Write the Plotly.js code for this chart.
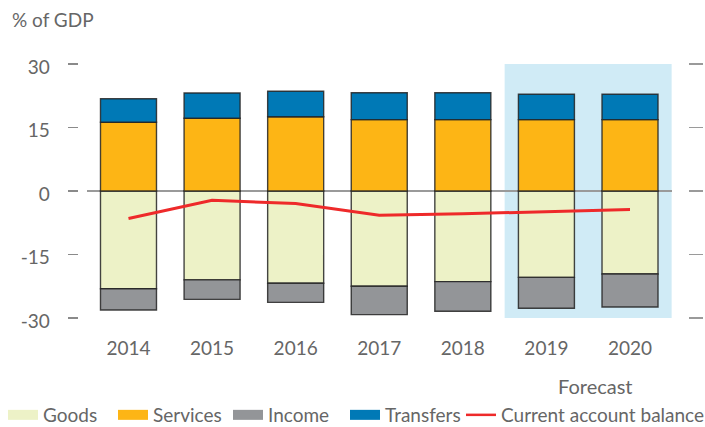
<!DOCTYPE html>
<html>
<head>
<meta charset="utf-8">
<script src="https://cdn.plot.ly/plotly-3.0.1.min.js"></script>
<style>
html,body{margin:0;padding:0;background:#fff;overflow:hidden;}
#frame{width:705px;height:427px;overflow:hidden;position:relative;}
#chart{width:730px;height:445px;position:absolute;left:0;top:0;}
</style>
</head>
<body>
<div id="frame"><div id="chart"></div></div>
<script>
var years = ['2014', '2015', '2016', '2017', '2018', '2019', '2020'];
var goods = [-23.1, -21.0, -21.8, -22.5, -21.4, -20.4, -19.6];
var services = [16.25, 17.2, 17.55, 16.85, 16.85, 16.85, 16.85];
var income = [-5.0, -4.6, -4.5, -6.7, -7.0, -7.3, -7.8];
var transfers = [5.55, 5.95, 6.0, 6.35, 6.35, 6.0, 6.0];
var currentAccount = [-6.5, -2.2, -2.95, -5.7, -5.4, -4.8, -4.35];
var forecastYears = ['2019', '2020'];
var yTicks = [-30, -15, 0, 15, 30];

// figure is slightly larger than the visible 705x427 frame so that the legend
// can sit near the bottom edge without pushing the margins
var W = 730, H = 445;
var FONT = 'Lato, "Open Sans", sans-serif';
var TXT = '#666666';
var colors = {goods: '#EDF2C7', services: '#FDB515', income: '#939598', transfers: '#0079B6', cab: '#EE2A2A'};
var outline = {color: 'rgba(35,35,35,0.85)', width: 1.4};

function barTrace(name, vals, color) {
  return {type: 'bar', name: name, x: years, y: vals, marker: {color: color, line: outline},
          showlegend: false, legendgroup: name, hoverinfo: 'x+y+name'};
}
function legendTrace(name, color, w, legendId) {
  return {type: 'scatter', mode: 'lines', name: name, x: [null], y: [null], yaxis: 'y2',
          line: {color: color, width: w}, legendgroup: name, legend: legendId, hoverinfo: 'skip'};
}

var traces = [
  barTrace('Goods', goods, colors.goods),
  barTrace('Services', services, colors.services),
  barTrace('Income', income, colors.income),
  barTrace('Transfers', transfers, colors.transfers),
  {type: 'scatter', mode: 'lines', name: 'Current account balance', x: years, y: currentAccount,
   line: {color: colors.cab, width: 3}, showlegend: false, legendgroup: 'Current account balance'},
  legendTrace('Goods', colors.goods, 14, 'legend'),
  legendTrace('Services', colors.services, 14, 'legend2'),
  legendTrace('Income', colors.income, 14, 'legend3'),
  legendTrace('Transfers', colors.transfers, 14, 'legend4'),
  legendTrace('Current account balance', colors.cab, 2.5, 'legend5')
];

var fStart = years.indexOf(forecastYears[0]) - 0.5;
var fEnd = years.indexOf(forecastYears[forecastYears.length - 1]) + 0.5;

var plotL = 86.7, plotR = 671.8, plotT = 64, plotB = 318;

function legendAt(px) {
  return {
    orientation: 'h', x: px / W, xanchor: 'left', y: 1 - 434 / H, yanchor: 'bottom',
    font: {family: FONT, size: 19, color: TXT}, bgcolor: 'rgba(0,0,0,0)',
    itemwidth: 30, itemclick: false, itemdoubleclick: false
  };
}

var layout = {
  width: W, height: H,
  margin: {l: 0, r: 0, t: 0, b: 0, pad: 0},
  paper_bgcolor: '#ffffff', plot_bgcolor: 'rgba(0,0,0,0)',
  barmode: 'relative', bargap: 0.33,
  font: {family: FONT, size: 19, color: TXT},
  xaxis: {
    domain: [plotL / W, plotR / W], anchor: 'y', type: 'category',
    showgrid: false, showline: false, zeroline: false, ticks: '',
    tickfont: {family: FONT, size: 19, color: TXT}, ticklabelstandoff: 17, automargin: false
  },
  yaxis: {
    domain: [1 - plotB / H, 1 - plotT / H], anchor: 'free', position: 77.7 / W,
    range: [-30, 30], tickvals: yTicks, ticktext: yTicks.map(String),
    ticks: 'outside', ticklen: 10, tickwidth: 1.3, tickcolor: '#8a8a8a',
    showgrid: false, showline: false, zeroline: true, zerolinecolor: '#9a9a9a', zerolinewidth: 1.5,
    tickfont: {family: FONT, size: 19, color: TXT}, ticklabelstandoff: 14, ticklabelshift: 3,
    automargin: false, fixedrange: true
  },
  yaxis2: {
    overlaying: 'y', side: 'right', anchor: 'free', position: 687.7 / W,
    range: [-30, 30], tickvals: yTicks, showticklabels: false,
    ticks: 'outside', ticklen: 14.6, tickwidth: 1.6, tickcolor: '#9a9a9a',
    showgrid: false, showline: false, zeroline: false, automargin: false
  },
  shapes: [{
    type: 'rect', xref: 'x', yref: 'y', x0: fStart, x1: fEnd, y0: -30, y1: 30,
    fillcolor: '#D0EBF6', line: {width: 0}, layer: 'below'
  }],
  annotations: [
    {text: '% of GDP', xref: 'paper', yref: 'paper', x: 10 / W, y: 1 - 19 / H,
     xanchor: 'left', yanchor: 'middle', showarrow: false, font: {family: FONT, size: 19, color: TXT}},
    {text: 'Forecast', xref: 'x', yref: 'paper', x: (fStart + fEnd) / 2, xshift: 7, y: 1 - 386 / H,
     xanchor: 'center', yanchor: 'middle', showarrow: false, font: {family: FONT, size: 20, color: TXT}}
  ],
  legend: legendAt(3),
  legend2: legendAt(113),
  legend3: legendAt(228),
  legend4: legendAt(345),
  legend5: legendAt(461),
  showlegend: true
};

Plotly.newPlot('chart', traces, layout, {displayModeBar: false, staticPlot: true});
</script>
</body>
</html>
